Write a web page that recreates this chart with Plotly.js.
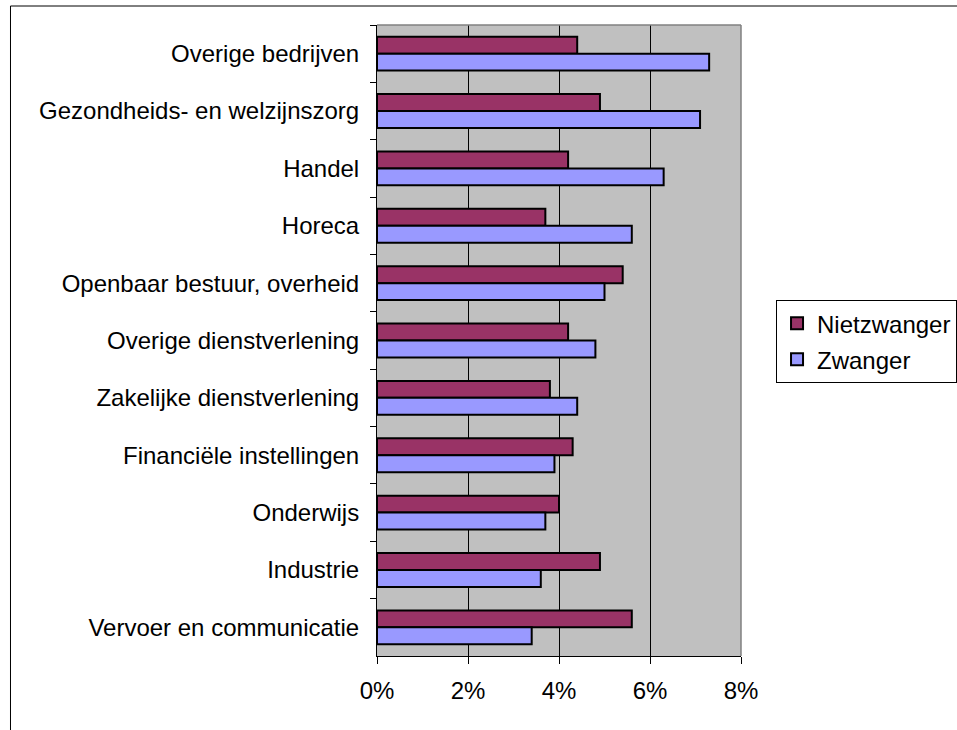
<!DOCTYPE html>
<html>
<head>
<meta charset="utf-8">
<script src="https://cdn.plot.ly/plotly-3.0.1.min.js"></script>
<style>html,body{margin:0;padding:0;background:#fff;}#chart{width:957px;height:730px;}</style>
</head>
<body>
<div id="chart"></div>
<script>
var categories = [
  "Overige bedrijven",
  "Gezondheids- en welzijnszorg",
  "Handel",
  "Horeca",
  "Openbaar bestuur, overheid",
  "Overige dienstverlening",
  "Zakelijke dienstverlening",
  "Financiële instellingen",
  "Onderwijs",
  "Industrie",
  "Vervoer en communicatie"
];
var nietzwanger = [4.4, 4.9, 4.2, 3.7, 5.4, 4.2, 3.8, 4.3, 4.0, 4.9, 5.6];
var zwanger     = [7.3, 7.1, 6.3, 5.6, 5.0, 4.8, 4.4, 3.9, 3.7, 3.6, 3.4];
var tickValues = [0, 2, 4, 6, 8];
var tickLabels = ["0%", "2%", "4%", "6%", "8%"];

var FONT = '"Liberation Sans", Arial, sans-serif';

var traces = [
  {
    type: 'bar', orientation: 'h', name: 'Nietzwanger',
    x: nietzwanger, y: categories, legendgroup: 'a',
    marker: {color: '#993366', line: {color: '#000000', width: 2}}
  },
  {
    type: 'bar', orientation: 'h', name: 'Zwanger',
    x: zwanger, y: categories, legendgroup: 'b',
    marker: {color: '#9999FF', line: {color: '#000000', width: 2}}
  }
];

var layout = {
  width: 957, height: 730,
  margin: {l: 377, r: 216, t: 25, b: 74, pad: 0, autoexpand: false},
  paper_bgcolor: '#FFFFFF',
  plot_bgcolor: '#C0C0C0',
  font: {family: FONT, size: 24, color: '#000000'},
  barmode: 'group',
  bargap: 0.41,
  bargroupgap: 0,
  showlegend: true,
  legend: {
    xref: 'container', yref: 'container',
    x: 0.8109, xanchor: 'left', y: 0.589, yanchor: 'top',
    bgcolor: '#FFFFFF', bordercolor: '#000000', borderwidth: 1,
    font: {family: FONT, size: 24, color: '#000000'},
    traceorder: 'grouped', tracegroupgap: 2
  },
  xaxis: {
    range: [0, 8], tickvals: tickValues, ticktext: tickLabels,
    showgrid: true, gridcolor: '#000000', gridwidth: 1,
    zeroline: false, showline: true, linecolor: '#000000', linewidth: 1,
    ticks: 'outside', ticklen: 7, tickcolor: '#000000', tickwidth: 1,
    ticklabelstandoff: 6,
    tickfont: {family: FONT, size: 24, color: '#000000'},
    fixedrange: true
  },
  yaxis: {
    type: 'category', autorange: 'reversed',
    showgrid: false, zeroline: false,
    showline: true, linecolor: '#000000', linewidth: 1,
    ticks: 'outside', tickson: 'boundaries', ticklen: 6, tickcolor: '#000000', tickwidth: 1,
    ticklabelstandoff: 12,
    tickfont: {family: FONT, size: 24, color: '#000000'},
    fixedrange: true
  },
  shapes: [
    {type: 'line', xref: 'paper', yref: 'paper', x0: 0, x1: 1, y0: 1, y1: 1,
     line: {color: '#808080', width: 1.5}},
    {type: 'line', xref: 'paper', yref: 'paper', x0: 1, x1: 1, y0: 0, y1: 1,
     line: {color: '#808080', width: 1.5}},
    {type: 'rect', xref: 'paper', yref: 'paper', x0: -1.0069, x1: 2, y0: -0.5, y1: 1.0301,
     line: {color: '#000000', width: 1}, fillcolor: 'rgba(0,0,0,0)'}
  ]
};

Plotly.newPlot('chart', traces, layout, {displayModeBar: false, staticPlot: true});
</script>
</body>
</html>
